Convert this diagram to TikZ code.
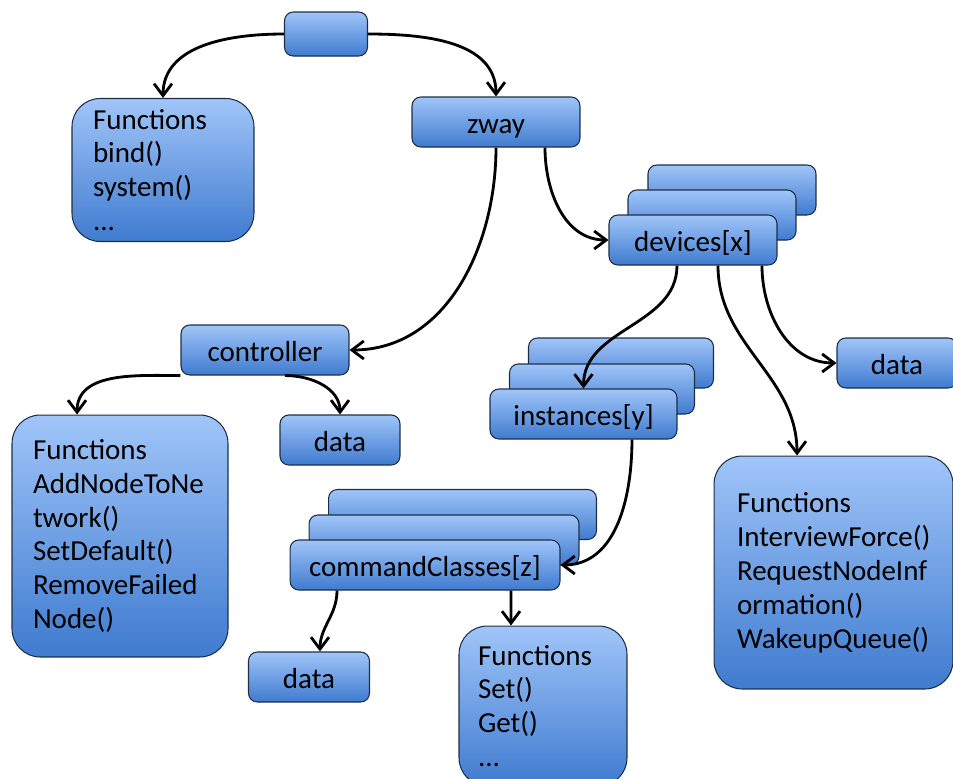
\documentclass[tikz,border=0pt]{standalone}
\usepackage{fontspec}
\setmainfont{Carlito}
\usepackage{tikz}
\usetikzlibrary{arrows.meta}
\definecolor{BoxTop}{HTML}{A0C5F9}
\definecolor{BoxBot}{HTML}{3F7BCF}
\definecolor{Edge}{HTML}{1E2F45}

\begin{document}
\begin{tikzpicture}[
  x=0.02cm,y=-0.02cm,
  box/.style={rounded corners=5pt,draw=Edge,line width=0.6pt,top color=BoxTop,bottom color=BoxBot,minimum height=1cm,inner sep=0pt,text height=0.62cm,text depth=0.18cm,font=\fontsize{16.5}{19.3}\selectfont},
  fbox/.style={box,rounded corners=16pt,align=left,text height={},text depth={},text width=#1},
  arrow/.style={-{Straight Barb[length=2.4mm,width=3.6mm]},line width=1.6pt,draw=black}
]
\useasboundingbox (0,0) rectangle (953,778);
\begin{scope}
\clip (0,0) rectangle (953,778);
% root and zway
\node[box,minimum width=1.66cm,minimum height=0.88cm] (root) at (326,34) {};
\node[fbox=2.8cm,minimum width=3.64cm,minimum height=2.86cm] (zfun) at (163,170) {Functions\\bind()\\system()\\...};
\node[box,minimum width=3.36cm] (zway) at (496,122) {zway};

% devices stack
\node[box,minimum width=3.36cm] (devC) at (732,190) {};
\node[box,minimum width=3.36cm] (devB) at (712,215) {};
\node[box,minimum width=3.36cm] (dev) at (693,240) {devices[x]};
\node[box,minimum width=2.4cm] (devdata) at (897,363) {data};
\node[fbox=3.86cm,minimum width=4.78cm,minimum height=4.66cm] (devfun) at (833.5,572.5) {Functions\\InterviewForce()\\RequestNodeInf\\ormation()\\WakeupQueue()};

% controller
\node[box,minimum width=3.36cm] (ctrl) at (265,350) {controller};
\node[box,minimum width=2.4cm] (ctrldata) at (340,440) {data};
\node[fbox=3.48cm,minimum width=4.32cm,minimum height=4.84cm] (ctrlfun) at (120,536) {Functions\\AddNodeToNe\\twork()\\SetDefault()\\RemoveFailed\\Node()};

% instances stack
\node[box,minimum width=3.7cm] (instC) at (621,363) {};
\node[box,minimum width=3.7cm] (instB) at (602,389) {};
\node[box,minimum width=3.74cm] (inst) at (583.5,414) {instances[y]};

% commandClasses stack
\node[box,minimum width=5.36cm] (ccC) at (462.5,514.5) {};
\node[box,minimum width=5.4cm] (ccB) at (444,540) {};
\node[box,minimum width=5.4cm] (cc) at (425,565) {commandClasses[z]};
\node[box,minimum width=2.42cm] (ccdata) at (309,677) {data};
\node[fbox=2.6cm,minimum width=3.36cm,minimum height=3.2cm] (ccfun) at (543,706) {Functions\\Set()\\Get()\\...};

% connectors
\draw[arrow] (root.west) to[out=180,in=90] (zfun.north);
\draw[arrow] (root.east) to[out=0,in=90] (zway.north);
\draw[arrow] (zway.south) to[out=-90,in=0] (ctrl.east);
\draw[arrow] ([xshift=0.98cm]zway.south) to[out=-90,in=180] (dev.west);
\draw[arrow] (ctrl.south west) to[out=180,in=90] ([xshift=-0.86cm]ctrlfun.north);
\draw[arrow] ([xshift=0.4cm]ctrl.south) to[out=0,in=90] (ctrldata.north);
\draw[arrow] ([xshift=-0.32cm]dev.south) to[out=-90,in=90] (inst.north);
\draw[arrow] ([xshift=0.5cm]dev.south) to[out=-90,in=90] ([xshift=-0.73cm]devfun.north);
\draw[arrow] ([xshift=1.38cm]dev.south) to[out=-90,in=180] (devdata.west);
\draw[arrow] ([xshift=0.97cm]inst.south) to[out=-90,in=0] (cc.east);
\draw[arrow] ([xshift=-1.76cm]cc.south) to[out=-90,in=90] ([xshift=0.22cm]ccdata.north);
\draw[arrow] ([xshift=1.72cm]cc.south) -- ([xshift=-0.64cm]ccfun.north);
\end{scope}
\end{tikzpicture}
\end{document}
